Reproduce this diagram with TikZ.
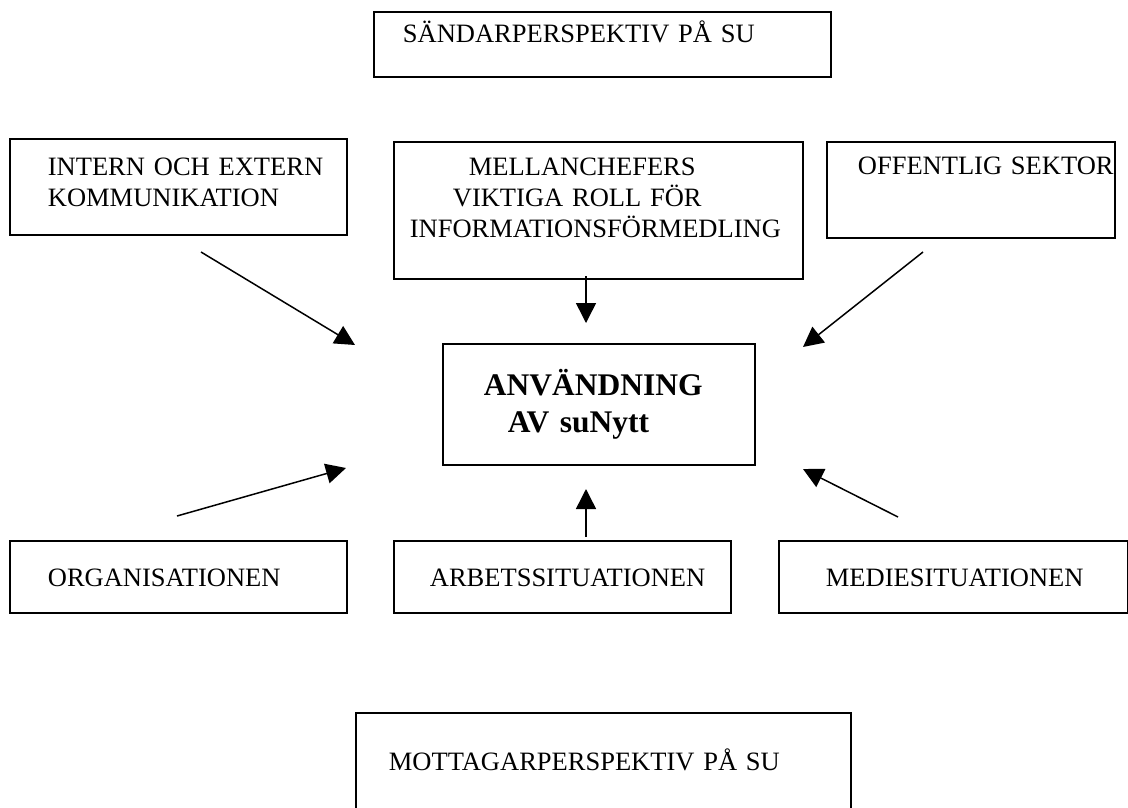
\documentclass[tikz,border=0pt]{standalone}
\usepackage{fontspec}
\setmainfont{Liberation Serif}
\usepackage{tikz}
\usetikzlibrary{arrows.meta}

\begin{document}
\begin{tikzpicture}[x=1pt, y=-1pt,
    box/.style={draw, line width=1.8pt, anchor=north west, align=left, inner sep=0pt, font=\fontsize{26.5}{31}\selectfont},
    arr/.style={-{Triangle[length=20pt, width=20pt]}, line width=1.5pt},
]
    \useasboundingbox (0,0) rectangle (1128,807);

    % perspectives
    \node[box, text width=457pt, text height=31pt, text depth=34pt] (snd) at (373, 11) {\hspace*{29pt}SÄNDARPERSPEKTIV PÅ SU};
    \node[box, text width=495pt, text height=58pt, text depth=40pt] (mot) at (355, 712) {\hspace*{33pt}MOTTAGARPERSPEKTIV PÅ SU};

    % upper row
    \node[box, text width=337pt, text height=37pt, text depth=59pt] (ike) at (9, 138) {\hspace*{38pt}INTERN OCH EXTERN\\\hspace*{38pt}KOMMUNIKATION};
    \node[box, text width=409pt, text height=34pt, text depth=103pt] (mel) at (393, 141) {\hspace*{75pt}MELLANCHEFERS\\\hspace*{59pt}VIKTIGA ROLL FÖR\\\hspace*{16pt}INFORMATIONSFÖRMEDLING};
    \node[box, text width=288pt, text height=33pt, text depth=63pt] (off) at (826, 141) {\hspace*{31pt}OFFENTLIG SEKTOR};

    % centre
    \node[box, text width=312pt, text height=52pt, text depth=69pt, font=\fontsize{31.5}{37}\selectfont\bfseries] (anv) at (442, 343) {\hspace*{41pt}ANVÄNDNING\\\hspace*{65pt}AV suNytt};

    % lower row
    \node[box, text width=337pt, text height=46pt, text depth=26pt] (org) at (9, 540) {\hspace*{38pt}ORGANISATIONEN};
    \node[box, text width=337pt, text height=46pt, text depth=26pt] (arb) at (393, 540) {\hspace*{36pt}ARBETSSITUATIONEN};
    \node[box, text width=349pt, text height=46pt, text depth=26pt] (med) at (778, 540) {\hspace*{47pt}MEDIESITUATIONEN};

    % arrow ends
    \coordinate (ike-out) at (201, 252);
    \coordinate (mel-out) at (586, 276);
    \coordinate (off-out) at (923, 252);
    \coordinate (org-out) at (177, 516);
    \coordinate (arb-out) at (586, 537);
    \coordinate (med-out) at (898, 517);
    \coordinate (anv-nw) at (355, 345);
    \coordinate (anv-n) at (586, 323);
    \coordinate (anv-ne) at (803, 347);
    \coordinate (anv-sw) at (346, 468);
    \coordinate (anv-s) at (586, 489);
    \coordinate (anv-se) at (803, 469);

    \draw[arr] (ike-out) -- (anv-nw);
    \draw[arr] (mel-out) -- (anv-n);
    \draw[arr] (off-out) -- (anv-ne);
    \draw[arr] (org-out) -- (anv-sw);
    \draw[arr] (arb-out) -- (anv-s);
    \draw[arr] (med-out) -- (anv-se);
\end{tikzpicture}
\end{document}
